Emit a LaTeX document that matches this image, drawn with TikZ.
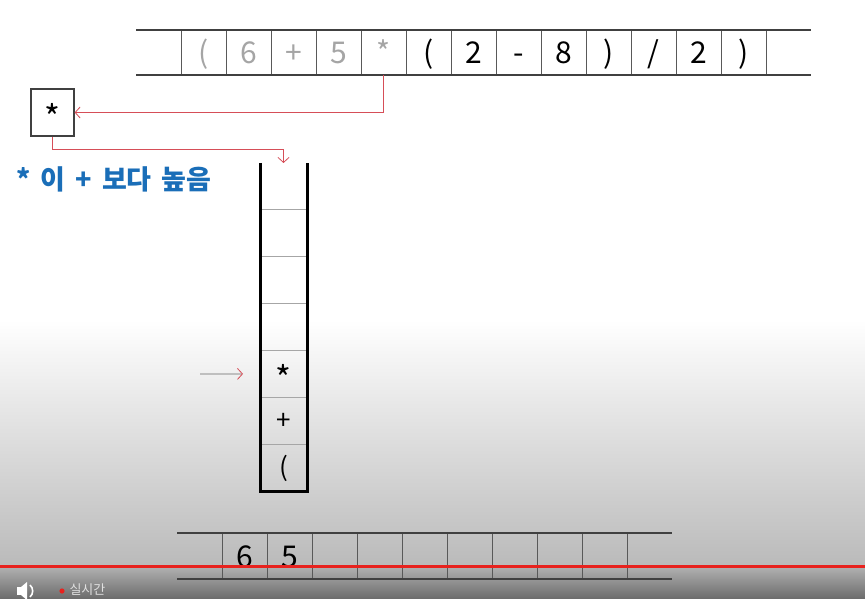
\documentclass[tikz,border=0pt]{standalone}
\usepackage{fontspec}
\newfontfamily\kor{Noto Sans CJK KR}
\usetikzlibrary{matrix, arrows.meta, calc}
\definecolor{pen}{RGB}{214,78,88}
\definecolor{note}{RGB}{26,110,184}
\definecolor{ghost}{RGB}{165,165,165}
\definecolor{bar}{RGB}{232,34,30}
\tikzset{>={Straight Barb[length=5pt,width=11pt]}}
\tikzset{
cell/.style={minimum width=45pt, minimum height=45pt, inner sep=0pt, outer sep=0pt, text height=24pt, text depth=2pt, font=\kor\fontsize{30}{30}\selectfont},
slot/.style={minimum width=47pt, minimum height=46.86pt, inner sep=0pt, outer sep=0pt, text height=20pt, text depth=2pt, font=\kor\fontsize{26}{26}\selectfont},
star/.style={font=\kor\fontsize{34}{34}\selectfont, text depth=0pt},
tape/.style={black!75, line width=1.6pt},
divider/.style={black!65, line width=0.8pt},
wall/.style={black, line width=3pt},
shelf/.style={black!35, line width=1.2pt},
link/.style={pen, line width=0.8pt},
pointer/.style={black!60, line width=0.8pt, -{Straight Barb[length=5pt,width=11pt,color=pen]}, shorten >=17pt}
}
\begin{document}
\begin{tikzpicture}[x=1pt, y=-1pt]
\useasboundingbox (0,0) rectangle (865,599);
\fill[white] (0,0) rectangle (865,320);
\shade[top color=white, bottom color=black!27] (0,320) rectangle (865,566);
\shade[top color=black!30, bottom color=black!58] (0,566) rectangle (865,599);
\matrix (infix)
[matrix of nodes, nodes in empty cells, anchor=west, inner sep=0pt, outer sep=0pt, column sep=0pt, nodes={cell}]
at (136,52.5)
{
 & |[text=ghost]|( & |[text=ghost]|6 & |[text=ghost]|+ & |[text=ghost]|5 & |[text=ghost]|* & ( & 2 & - & 8 & ) & / & 2 & ) & \\
};
\foreach \i in {2,...,15}
  \draw[divider] (infix-1-\i.north west) -- (infix-1-\i.south west);
\draw[tape] (infix-1-1.north west) -- (infix-1-15.north east);
\draw[tape] (infix-1-1.south west) -- (infix-1-15.south east);
\node (op) [draw=black!75, line width=1.2pt, minimum width=43pt, minimum height=47pt, inner sep=0pt, star, text height=36.5pt] at (52.5,112.5) {*};
\node (note) [anchor=west, text=note, font={\kor\bfseries\fontsize{27}{27}\selectfont\spaceskip=10pt}] at (13,179) {* 이 + 보다 높음};
\matrix (stack)
[matrix of nodes, nodes in empty cells, anchor=north, inner sep=0pt, outer sep=0pt, row sep=0pt, nodes={slot}]
at (283.5,163)
{
 \\
 \\
 \\
 \\
|[star, text height=35.5pt]| * \\
+ \\
( \\
};
\foreach \i in {2,...,7}
  \draw[shelf] (stack-\i-1.north west) -- (stack-\i-1.north east);
\draw[wall] (stack-1-1.north west) -- (stack-7-1.south west) -- (stack-7-1.south east) -- (stack-1-1.north east);
\path[->, link]
(infix-1-6.south) edge[to path={|- (\tikztotarget)}] (op.east)
(op.south) edge[to path={-- ++(0,13) -| (\tikztotarget)}] (stack-1-1.north);
\coordinate (cue) at (200,374);
\draw[pointer] (cue) -- (stack-5-1.west);
\matrix (postfix)
[matrix of nodes, nodes in empty cells, anchor=west, inner sep=0pt, outer sep=0pt, column sep=0pt, nodes={cell, minimum height=46pt}]
at (177,556)
{
 & 6 & 5 & & & & & & & & \\
};
\foreach \i in {2,...,11}
  \draw[divider] (postfix-1-\i.north west) -- (postfix-1-\i.south west);
\draw[tape] (postfix-1-1.north west) -- (postfix-1-11.north east);
\draw[tape] (postfix-1-1.south west) -- (postfix-1-11.south east);
\draw[bar, line width=3pt] (0,566) -- (865,566);
\fill[white] (17,587) rectangle (21,595);
\fill[white] (21,587) -- (27,582) -- (27,600) -- (21,595) -- cycle;
\draw[white, line width=1.6pt] (30,585) to[bend left=50] (30,597);
\fill[bar] (62,591) circle (2.6pt);
\node (live) [anchor=west, text=black!12, font=\kor\fontsize{13}{13}\selectfont] at (66,590) {실시간};
\end{tikzpicture}
\end{document}
